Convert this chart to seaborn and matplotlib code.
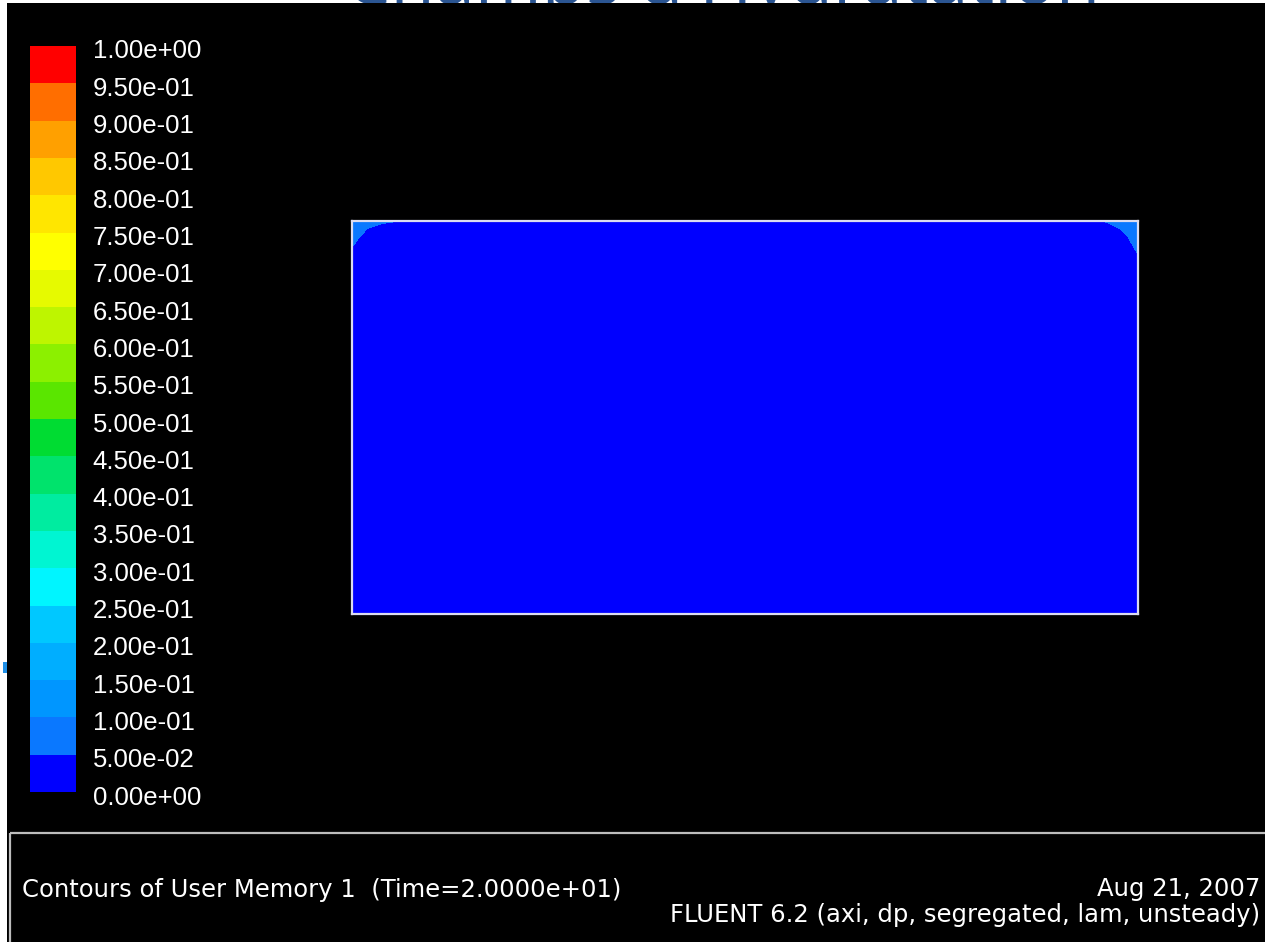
import numpy as np
import matplotlib
matplotlib.use("Agg")
import matplotlib.pyplot as plt
from matplotlib.colors import ListedColormap
from matplotlib.patches import Rectangle
from matplotlib.transforms import ScaledTranslation
import seaborn as sns

# ---- contour levels of User Memory 1 ----
levels = [0.00, 0.05, 0.10, 0.15, 0.20, 0.25, 0.30, 0.35, 0.40, 0.45, 0.50,
          0.55, 0.60, 0.65, 0.70, 0.75, 0.80, 0.85, 0.90, 0.95, 1.00]
level_labels = ["0.00e+00", "5.00e-02", "1.00e-01", "1.50e-01", "2.00e-01",
                "2.50e-01", "3.00e-01", "3.50e-01", "4.00e-01", "4.50e-01",
                "5.00e-01", "5.50e-01", "6.00e-01", "6.50e-01", "7.00e-01",
                "7.50e-01", "8.00e-01", "8.50e-01", "9.00e-01", "9.50e-01",
                "1.00e+00"]

# ---- axisymmetric domain: nodes along r (axial) and z (radial) ----
r_nodes = [0.0, 0.025, 0.051, 0.076, 0.115, 0.153,
           1.847, 1.885, 1.924, 1.949, 1.975, 2.0]
z_nodes = [1.0, 0.980, 0.959, 0.939, 0.919, 0.898, 0.0]

# field values at the nodes (rows follow z_nodes, columns follow r_nodes)
field_rows = [
    [0.090, 0.085, 0.075, 0.065, 0.052, 0.0, 0.0, 0.030, 0.060, 0.075, 0.085, 0.090],
    [0.080, 0.060, 0.040, 0.020, 0.0,   0.0, 0.0, 0.0,   0.020, 0.045, 0.070, 0.085],
    [0.065, 0.045, 0.020, 0.0,   0.0,   0.0, 0.0, 0.0,   0.010, 0.030, 0.050, 0.075],
    [0.053, 0.035, 0.010, 0.0,   0.0,   0.0, 0.0, 0.0,   0.0,   0.015, 0.040, 0.062],
    [0.040, 0.0,   0.0,   0.0,   0.0,   0.0, 0.0, 0.0,   0.0,   0.0,   0.030, 0.052],
    [0.0,   0.0,   0.0,   0.0,   0.0,   0.0, 0.0, 0.0,   0.0,   0.0,   0.0,   0.035],
    [0.0,   0.0,   0.0,   0.0,   0.0,   0.0, 0.0, 0.0,   0.0,   0.0,   0.0,   0.0],
]

# banded rainbow palette, one colour per contour interval (low -> high)
band_colors = ["#0000ff", "#0a78ff", "#0096ff", "#00aeff", "#00c8ff",
               "#00f5ff", "#00f5d2", "#00eca0", "#00e36c", "#00dc32",
               "#5ae600", "#8cf000", "#bef500", "#e6fa00", "#ffff00",
               "#ffe600", "#ffc800", "#ffa000", "#ff6e00", "#ff0000"]

sns.set_theme(style="dark", rc={"axes.facecolor": "black",
                                "figure.facecolor": "white"})
plt.rcParams["font.family"] = ["Liberation Sans", "DejaVu Sans"]

W, H = 1265, 942
fig = plt.figure(figsize=(W / 100, H / 100), dpi=100)

# page layer: slide heading underneath the black graphics window
bg = fig.add_axes([0, 0, 1, 1], zorder=-1)
bg.set_xlim(0, W)
bg.set_ylim(H, 0)
bg.axis("off")
bg.text(345, 4, "Champs d'Hydratation", color="#2b5592", fontsize=52,
        ha="left", va="baseline", zorder=1, family=["Open Sans", "DejaVu Sans"])
bg.add_patch(Rectangle((7, 3), W, H, facecolor="black", edgecolor="none", zorder=2))
bg.add_patch(Rectangle((3, 662), 4, 11, facecolor="#1e8ee6", edgecolor="none", zorder=3))

# ---- contour plot ----
ax = fig.add_axes([352 / W, 1 - 614 / H, 786 / W, 393 / H])
R, Z = np.meshgrid(r_nodes, z_nodes)
ax.contourf(R, Z, np.array(field_rows), levels=levels, colors=band_colors)
ax.set_xlim(0, 2)
ax.set_ylim(0, 1)
ax.set_xticks([])
ax.set_yticks([])
for sp in ax.spines.values():
    sp.set_visible(True)
    sp.set_color("#dcdcf0")
    sp.set_linewidth(1.6)

# ---- colour scale drawn as a one-column heatmap ----
cax = fig.add_axes([30 / W, 1 - 792 / H, 46 / W, 746 / H])
band_mid = np.array([[lv + 0.025] for lv in levels[:-1]])[::-1]
sns.heatmap(band_mid, ax=cax, cmap=ListedColormap(band_colors), vmin=0, vmax=1,
            cbar=False, xticklabels=False, yticklabels=False)
cax.yaxis.tick_right()
cax.set_yticks(np.arange(len(levels)))
cax.set_yticklabels(level_labels[::-1], color="white", fontsize=18.5)
cax.tick_params(axis="y", length=0, pad=12, labelright=True, labelleft=False)
for lbl in cax.get_yticklabels():
    lbl.set_transform(lbl.get_transform() + ScaledTranslation(0, -3 / 100, fig.dpi_scale_trans))
cax.set_xticks([])

# ---- annotation panel ----
bg.add_patch(Rectangle((10, 833), W, 200, fill=False, edgecolor="#bdbdbd",
                       linewidth=1.6, zorder=4))
panel_font = dict(color="white", fontsize=17.5, family=["DejaVu Sans"], va="center")
fig.text(22 / W, 1 - 890 / H, "Contours of User Memory 1  (Time=2.0000e+01)",
         ha="left", **panel_font)
fig.text(1260 / W, 1 - 889 / H, "Aug 21, 2007", ha="right", **panel_font)
fig.text(1260 / W, 1 - 915 / H, "FLUENT 6.2 (axi, dp, segregated, lam, unsteady)",
         ha="right", **panel_font)

fig.savefig("out.png", dpi=100, facecolor="white")
